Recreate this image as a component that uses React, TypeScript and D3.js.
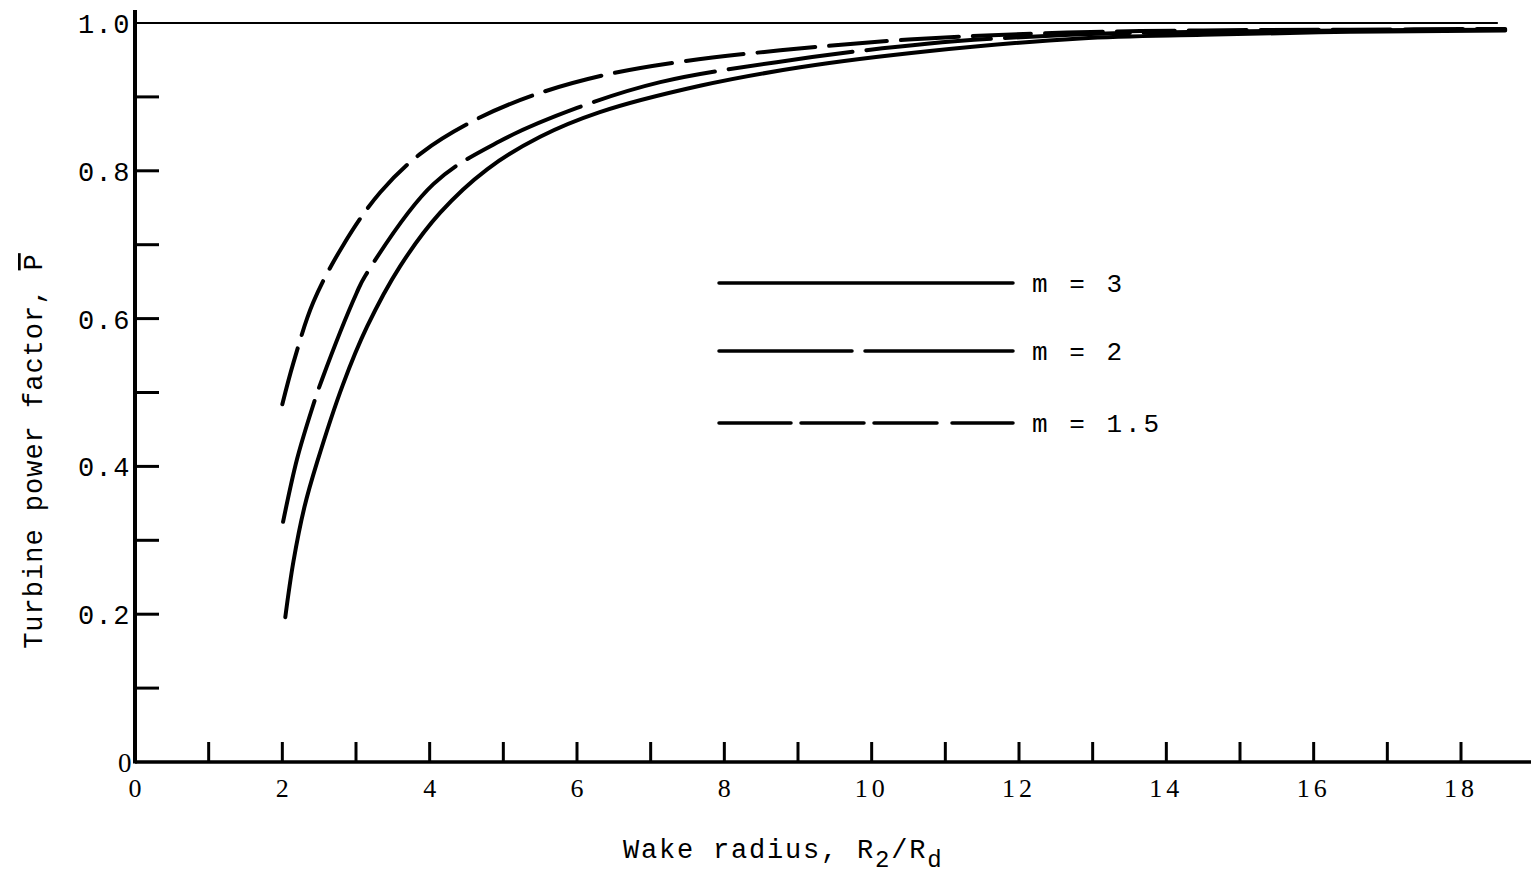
import React, { useEffect, useRef } from 'react';
import * as d3 from 'd3';

// readings of the three curves (R2/Rd, P-bar)
const m3X = [2.04, 2.15, 2.3, 2.47, 2.82, 3.15, 3.6, 4.14, 4.78, 5.5, 6.3, 7.67, 9.03, 10.79, 12.83, 14.5, 16.5, 18.6];
const m3Y = [0.196, 0.271, 0.345, 0.405, 0.51, 0.589, 0.671, 0.743, 0.802, 0.846, 0.879, 0.915, 0.94, 0.962, 0.979, 0.984, 0.988, 0.99];

const m2X = [2.01, 2.2, 2.4, 2.54, 3.01, 3.12, 4.05, 4.95, 6.0, 7.13, 8.71, 10.75, 12.7, 14.5, 16.5, 18.6];
const m2Y = [0.325, 0.41, 0.477, 0.518, 0.635, 0.657, 0.782, 0.84, 0.885, 0.92, 0.947, 0.972, 0.984, 0.988, 0.99, 0.991];

const m15X = [2.0, 2.15, 2.42, 2.83, 3.33, 3.9, 4.64, 5.4, 6.35, 7.44, 8.76, 10.56, 12.65, 14.5, 16.5, 18.6];
const m15Y = [0.484, 0.54, 0.622, 0.7, 0.771, 0.825, 0.87, 0.902, 0.929, 0.948, 0.963, 0.978, 0.987, 0.99, 0.991, 0.992];

const seriesNames = ['m = 3', 'm = 2', 'm = 1.5'];
const seriesDash = ['none', '125 14', '58 14'];
const legendDash = ['none', '133 13 400', '72 10 63 10 63 15 80'];

const xTickLabels = ['0', '2', '4', '6', '8', '10', '12', '14', '16', '18'];
const yTickLabels = ['0', '0.2', '0.4', '0.6', '0.8', '1.0'];

const MONO = '"Liberation Mono", "DejaVu Sans Mono", monospace';
const SERIF = '"Liberation Serif", "DejaVu Serif", serif';

const App = () => {
    const ref = useRef<SVGSVGElement>(null);

    useEffect(() => {
        const svg = d3.select(ref.current);
        svg.selectAll('*').remove();

        const x = d3.scaleLinear().domain([0, 18]).range([135, 1461]);
        const y = d3.scaleLinear().domain([0, 1]).range([762, 23]);

        // y = 1.0 reference line
        svg.append('line')
            .attr('x1', x(0)).attr('x2', x(18.5))
            .attr('y1', y(1)).attr('y2', y(1))
            .attr('stroke', '#000').attr('stroke-width', 2.2);

        // axes
        svg.append('line')
            .attr('x1', x(0)).attr('x2', 1531)
            .attr('y1', y(0)).attr('y2', y(0))
            .attr('stroke', '#000').attr('stroke-width', 3.5);
        svg.append('line')
            .attr('x1', x(0)).attr('x2', x(0))
            .attr('y1', 10).attr('y2', y(0) + 1.5)
            .attr('stroke', '#000').attr('stroke-width', 4);

        // inward ticks
        svg.selectAll('.xt')
            .data(d3.range(1, 19))
            .enter().append('line')
            .attr('x1', d => x(d)).attr('x2', d => x(d))
            .attr('y1', y(0)).attr('y2', y(0) - 20)
            .attr('stroke', '#000').attr('stroke-width', 3);
        svg.selectAll('.yt')
            .data(d3.range(1, 10).map(d => d / 10))
            .enter().append('line')
            .attr('x1', x(0)).attr('x2', x(0) + 24)
            .attr('y1', d => y(d)).attr('y2', d => y(d))
            .attr('stroke', '#000').attr('stroke-width', 3);

        // tick labels
        svg.selectAll('.xl')
            .data(xTickLabels)
            .enter().append('text')
            .attr('x', d => x(+d))
            .attr('y', 797)
            .attr('text-anchor', 'middle')
            .style('font-family', SERIF)
            .style('font-size', '26px')
            .style('letter-spacing', d => (d.length > 1 ? '4px' : '0px'))
            .text(d => d);
        svg.selectAll('.yl')
            .data(yTickLabels)
            .enter().append('text')
            .attr('x', d => (d === '0' ? 133 : 131))
            .attr('y', d => y(+d) + 10)
            .attr('text-anchor', 'end')
            .style('font-family', d => (d === '0' ? SERIF : MONO))
            .style('font-size', '27px')
            .style('letter-spacing', '1.5px')
            .text(d => d);

        // curves
        const line = d3.line<[number, number]>()
            .x(d => x(d[0]))
            .y(d => y(d[1]))
            .curve(d3.curveCatmullRom.alpha(0.5));
        const curves: [number, number][][] = [
            m3X.map((v, i) => [v, m3Y[i]]),
            m2X.map((v, i) => [v, m2Y[i]]),
            m15X.map((v, i) => [v, m15Y[i]]),
        ];
        curves.forEach((pts, i) => {
            svg.append('path')
                .attr('d', line(pts))
                .attr('fill', 'none')
                .attr('stroke', '#000')
                .attr('stroke-width', 4)
                .attr('stroke-linecap', 'round')
                .attr('stroke-dasharray', seriesDash[i]);
        });

        // legend
        const legendY = [283, 351, 423];
        seriesNames.forEach((name, i) => {
            svg.append('line')
                .attr('x1', 719).attr('x2', 1013)
                .attr('y1', legendY[i]).attr('y2', legendY[i])
                .attr('stroke', '#000')
                .attr('stroke-width', 3.5)
                .attr('stroke-linecap', 'round')
                .attr('stroke-dasharray', legendDash[i]);
            svg.append('text')
                .attr('x', 1032)
                .attr('y', legendY[i] + 9)
                .style('font-family', MONO)
                .style('font-size', '26px')
                .style('letter-spacing', '3px')
                .text(name);
        });

        // x title
        const xt = svg.append('text')
            .attr('x', 623)
            .attr('y', 858)
            .style('font-family', MONO)
            .style('font-size', '27px')
            .style('letter-spacing', '1.8px');
        xt.append('tspan').text('Wake radius, R');
        xt.append('tspan').attr('dy', 9).style('font-size', '24px').text('2');
        xt.append('tspan').attr('dy', -9).text('/R');
        xt.append('tspan').attr('dy', 9).style('font-size', '24px').text('d');

        // y title
        const yt = svg.append('text')
            .attr('transform', 'translate(42,451) rotate(-90)')
            .attr('text-anchor', 'middle')
            .style('font-family', MONO)
            .style('font-size', '27px')
            .style('letter-spacing', '1px');
        yt.append('tspan').text('Turbine power factor, ');
        yt.append('tspan').style('text-decoration', 'overline').text('P');
    }, []);

    return (
        <svg ref={ref} width={1531} height={877}
            style={{ position: 'absolute', left: 0, top: 0, background: '#fff' }}></svg>
    );
};

export default App;
